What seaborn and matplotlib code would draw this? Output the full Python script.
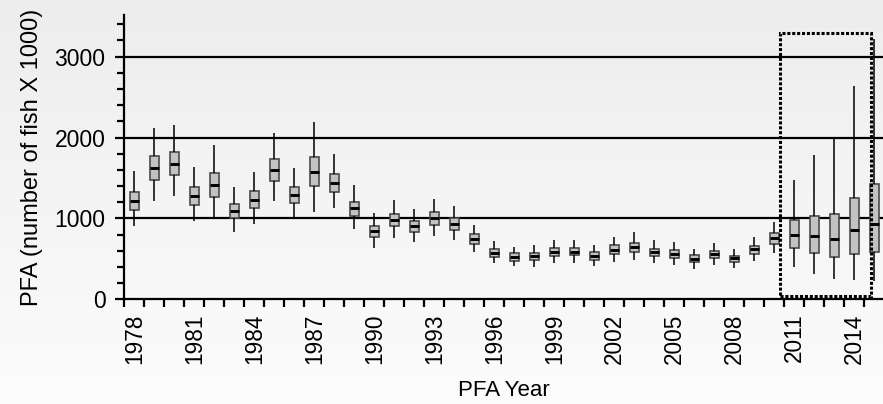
import numpy as np
import pandas as pd
import matplotlib
matplotlib.use("Agg")
import matplotlib.pyplot as plt
import seaborn as sns
from matplotlib.ticker import MultipleLocator, FixedLocator
from matplotlib.colors import LinearSegmentedColormap
from matplotlib.patches import Rectangle

years = list(range(1978, 2016))
whisker_low = [901, 1215, 1281, 963, 1008, 835, 934, 1215, 1008, 1079, 1132, 876,
               640, 760, 707, 781, 731, 587, 447, 414, 398, 455, 455, 414,
               467, 484, 447, 422, 380, 430, 391, 473, 572, 399, 309, 247, 239, 222]
q1 = [1103, 1479, 1537, 1165, 1264, 1000, 1124, 1463, 1190, 1397, 1331, 1033,
      773, 901, 831, 921, 855, 690, 529, 480, 484, 541, 546, 492,
      558, 583, 534, 513, 460, 509, 465, 564, 687, 630, 576, 523, 564, 588]
median = [1211, 1624, 1678, 1277, 1409, 1087, 1227, 1599, 1285, 1570, 1438, 1124,
          843, 979, 901, 1000, 934, 748, 579, 529, 541, 591, 591, 541,
          616, 645, 583, 562, 504, 562, 506, 617, 753, 790, 778, 741, 852, 926]
q3 = [1322, 1777, 1826, 1388, 1562, 1178, 1335, 1740, 1393, 1760, 1550, 1207,
      909, 1054, 967, 1074, 1000, 806, 624, 571, 579, 637, 637, 583,
      674, 703, 628, 612, 550, 603, 539, 663, 819, 984, 1033, 1053, 1255, 1424]
whisker_high = [1587, 2120, 2149, 1636, 1905, 1388, 1579, 2050, 1624, 2194, 1798, 1413,
                1066, 1231, 1120, 1240, 1153, 921, 720, 645, 674, 732, 736, 674,
                773, 827, 736, 715, 621, 695, 621, 770, 959, 1473, 1782, 1992, 2642, 3218]
label_years = years[::3]
highlight_years = years[33:]

rows = []
for i, yr in enumerate(years):
    for v in (whisker_low[i], q1[i], median[i], q3[i], whisker_high[i]):
        rows.append({"year": str(yr), "value": v})
df = pd.DataFrame(rows)

plt.rcParams["font.family"] = ["Liberation Sans", "DejaVu Sans"]
plt.rcParams["text.color"] = "#111111"

W, H = 883, 404
fig = plt.figure(figsize=(W / 100, H / 100), dpi=100)

bg = fig.add_axes([0, 0, 1, 1], zorder=-10)
cmap = LinearSegmentedColormap.from_list("bg", ["#ededed", "#fcfcfc"])
bg.imshow(np.linspace(0, 1, 256)[:, None], cmap=cmap, aspect="auto", extent=[0, 1, 0, 1])
bg.axis("off")

left_px, bottom_px, top_px = 124.3, 299.4, 15
ax = fig.add_axes([left_px / W, (H - bottom_px) / H, (W - left_px) / W, (bottom_px - top_px) / H], zorder=1)
ax.patch.set_alpha(0)

order = [str(y) for y in years]
sns.boxplot(data=df, x="year", y="value", order=order, ax=ax, whis=(0, 100),
            color="#c2c2c2", saturation=1, width=0.43, linecolor="#4a4a4a",
            linewidth=1.2, showcaps=False, fliersize=0,
            medianprops=dict(color="black", linewidth=2.1),
            whiskerprops=dict(color="black", linewidth=1.1),
            boxprops=dict(edgecolor="#4a4a4a", linewidth=1.2))

ax.set_ylim(0, 3514)
ax.set_xlim(-0.5, 37.43)
ax.yaxis.set_major_locator(MultipleLocator(1000))
ax.yaxis.set_minor_locator(MultipleLocator(200))
ax.grid(False)
for yv in (1000, 2000, 3000):
    ax.axhline(yv, color="black", lw=1.6, zorder=0.5)

pos = [years.index(y) for y in label_years]
ax.xaxis.set_major_locator(FixedLocator(pos))
ax.set_xticklabels([str(y) for y in label_years], rotation=90)
ax.xaxis.set_minor_locator(FixedLocator(np.arange(-0.5, len(years), 1.0)))
ax.tick_params(axis="x", which="major", length=0, pad=10, labelsize=16.3)
ax.tick_params(axis="x", which="minor", length=5.8, width=1.6, direction="out")
ax.tick_params(axis="y", which="major", length=6.5, width=1.6, pad=7, labelsize=16.5)
ax.tick_params(axis="y", which="minor", length=5, width=1.6)

for s in ("top", "right"):
    ax.spines[s].set_visible(False)
for s in ("left", "bottom"):
    ax.spines[s].set_linewidth(1.6)
    ax.spines[s].set_color("black")

ax.set_xlabel("PFA Year", fontsize=16)
ax.set_ylabel("PFA (number of fish X 1000)", fontsize=17)
ax.xaxis.set_label_coords(0.5, -0.285)
ax.yaxis.set_label_coords(-0.1078, 0.5)

x0 = years.index(highlight_years[0]) - 0.71
x1 = years.index(highlight_years[-1]) - 0.18
rect = Rectangle((x0, 42), x1 - x0, 3297 - 42, fill=False, edgecolor="black",
                 linewidth=2.2, linestyle=(0, (1, 0.6)), clip_on=False, zorder=5)
ax.add_patch(rect)

fig.savefig("out.png", dpi=100)
